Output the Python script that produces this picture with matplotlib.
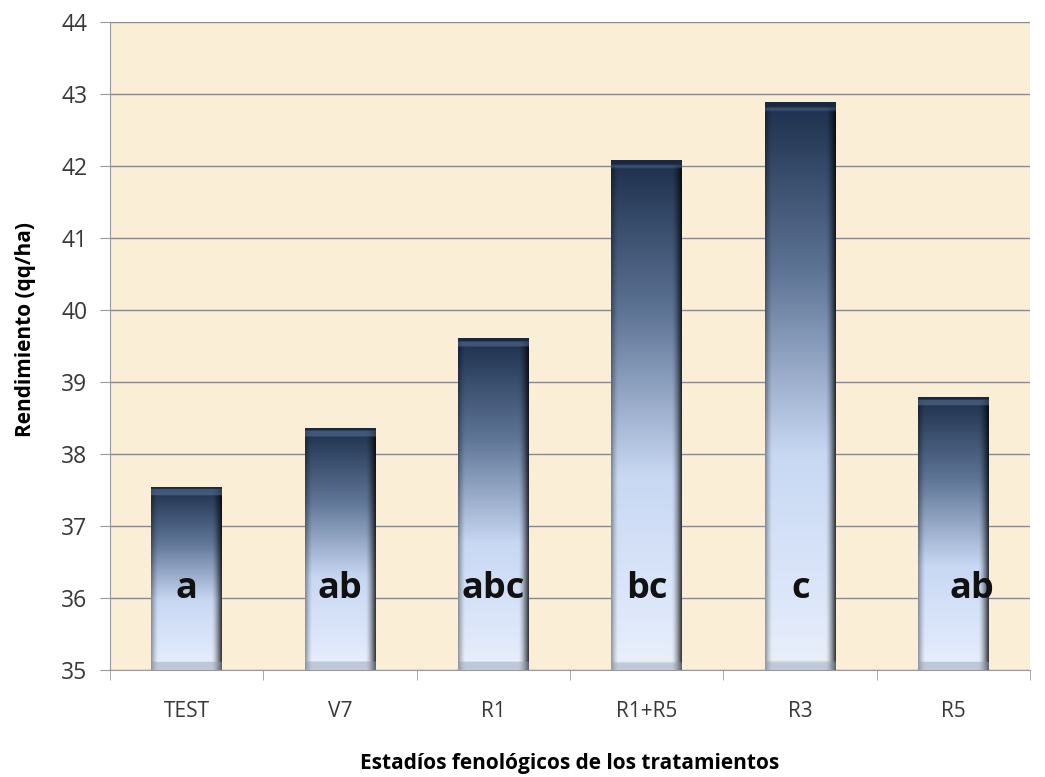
import numpy as np
import matplotlib.pyplot as plt
from matplotlib.colors import LinearSegmentedColormap

# rendimiento medio por tratamiento
tratamientos = ['TEST', 'V7', 'R1', 'R1+R5', 'R3', 'R5']
rendimiento = [37.53, 38.35, 39.61, 42.08, 42.88, 38.79]
letras = ['a', 'ab', 'abc', 'bc', 'c', 'ab']

plt.rcParams['font.family'] = ['Open Sans', 'DejaVu Sans']

fig = plt.figure(figsize=(10.45, 7.77), dpi=100)
ax = fig.add_axes([0.105, 0.1377, 0.881, 0.834])
ax.set_facecolor('#faefd6')

x = np.arange(len(tratamientos))
ancho = 0.46
bars = ax.bar(x, [v - 35 for v in rendimiento], ancho, bottom=35,
              color='none', edgecolor='none', zorder=3)

# degradado vertical azul oscuro -> celeste, con bordes sombreados
cmap = LinearSegmentedColormap.from_list(
    'barra', [(0.0, '#eaf0fb'), (0.12, '#dde7fa'), (0.38, '#c8d8f3'),
              (0.7, '#5f7596'), (1.0, '#1d304d')])

def rellenar(bar):
    x0, y0 = bar.get_x(), bar.get_y()
    w, h = bar.get_width(), bar.get_height()
    ny, nx = 200, 60
    t = np.linspace(0, 1, ny)[:, None]
    img = cmap(np.repeat(t, nx, axis=1))
    u = np.linspace(-1, 1, nx)[None, :]
    izq = 1 - 0.35 * np.clip((-u - 0.8) / 0.2, 0, 1) ** 1.5
    der = 1 - 0.75 * np.clip((u - 0.72) / 0.28, 0, 1) ** 1.5
    img[..., :3] *= (izq * der)[..., None]
    # bisel superior e inferior
    px_h = h * 72.0
    bisel = max(1, int(ny * 9 / px_h))
    img[-bisel:, :, :3] = img[-bisel:, :, :3] * 0.6 + 0.4 * np.array([0.45, 0.55, 0.7])
    img[-2:, :, :3] = np.array([0.1, 0.16, 0.25])
    img[:bisel, :, :3] = img[:bisel, :, :3] * 0.55 + 0.45 * np.array([0.55, 0.6, 0.68])
    ax.imshow(img, extent=[x0, x0 + w, y0, y0 + h], origin='lower',
              aspect='auto', zorder=3, interpolation='bilinear')

for b in bars:
    rellenar(b)

for xi, letra in zip(x, letras):
    dx = 0.12 if letra == 'ab' and xi == len(x) - 1 else 0
    ax.text(xi + dx, 36.0, letra, ha='center', va='baseline', fontsize=26,
            fontweight='bold', color='#111111', zorder=4)

ax.set_xlim(-0.5, len(x) - 0.5)
ax.set_ylim(35, 44)
ax.set_yticks(range(35, 45))
ax.grid(axis='y', color='#8a8a8a', linewidth=1.0, zorder=1)
ax.set_axisbelow(True)

ax.set_xticks(x)
ax.set_xticklabels(tratamientos)
ax.set_xticks(np.arange(-0.5, len(x)), minor=True)
ax.tick_params(axis='x', which='major', length=0, pad=22, labelsize=15,
               labelcolor='#383838')
ax.tick_params(axis='x', which='minor', length=7, color='#9a9a9a')
ax.tick_params(axis='y', length=7, color='#9a9a9a', labelsize=16.5,
               labelcolor='#383838', pad=9)

for s in ['top', 'right']:
    ax.spines[s].set_visible(False)
for s in ['left', 'bottom']:
    ax.spines[s].set_color('#9a9a9a')

ax.set_xlabel('Estadíos fenológicos de los tratamientos', fontsize=15,
              fontweight='bold')
ax.xaxis.set_label_coords(0.5, -0.128)
ax.set_ylabel('Rendimiento (qq/ha)', fontsize=15, fontweight='bold')
ax.yaxis.set_label_coords(-0.08, 0.525)

fig.savefig('out.png', dpi=100)
